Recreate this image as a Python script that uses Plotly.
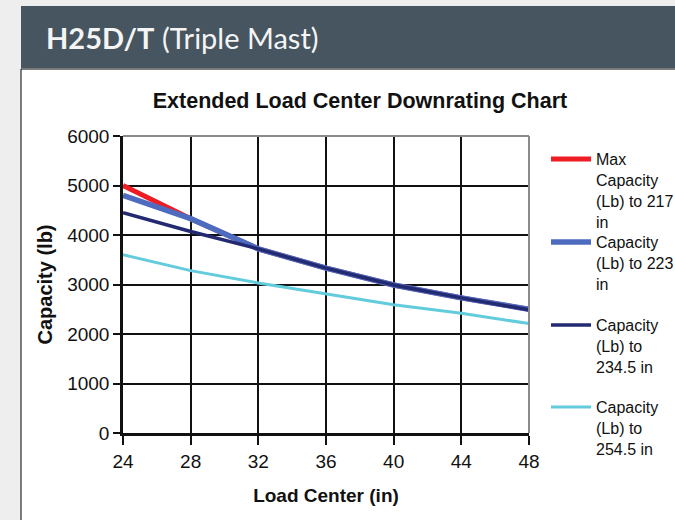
import plotly.graph_objects as go

load_center = [24, 28, 32, 36, 40, 44, 48]
cap_217 = [5000, 4330, 3720, 3330, 2990, 2730, 2500]
cap_223 = [4800, 4330, 3720, 3330, 2990, 2730, 2500]
cap_2345 = [4450, 4070, 3720, 3330, 2990, 2730, 2490]
cap_2545 = [3600, 3280, 3030, 2810, 2590, 2420, 2210]

names = [
    "Max<br>Capacity<br>(Lb) to 217<br>in",
    "Capacity<br>(Lb) to 223<br>in",
    "Capacity<br>(Lb) to<br>234.5 in",
    "Capacity<br>(Lb) to<br>254.5 in",
]
colors = ["#ee1d24", "#4d6cc0", "#242a72", "#62cbdc"]
widths = [5, 5.5, 3.5, 3]
series = [cap_217, cap_223, cap_2345, cap_2545]
legend_ids = ["legend", "legend2", "legend3", "legend4"]

W, H = 675, 520
L, R, T, B = 123, 529, 136, 433


def px_x(px):
    return (px - L) / (R - L)


def px_y(py):
    return (B - py) / (B - T)


FONT = "Arial, 'Liberation Sans', sans-serif"

fig = go.Figure()
for name, ys, c, w, lg in zip(names, series, colors, widths, legend_ids):
    fig.add_trace(go.Scatter(x=load_center, y=ys, name=name, mode="lines",
                             line=dict(color=c, width=w), legend=lg))

legend_tops = [142, 225, 308, 390]
layout_legends = {}
for lg, top in zip(legend_ids, legend_tops):
    layout_legends[lg] = dict(
        x=px_x(546), xanchor="left", y=px_y(top), yanchor="top",
        bgcolor="rgba(0,0,0,0)", borderwidth=0,
        font=dict(family=FONT, size=16, color="#111"),
        valign="top", itemwidth=40, tracegroupgap=0,
    )

shapes = [
    # white panel
    dict(type="rect", xref="paper", yref="paper", x0=px_x(21), x1=px_x(690),
         y0=px_y(69), y1=px_y(530), fillcolor="white",
         line=dict(color="black", width=1), layer="below"),
    # header bar
    dict(type="rect", xref="paper", yref="paper", x0=px_x(21), x1=px_x(690),
         y0=px_y(6), y1=px_y(68), fillcolor="#46555f",
         line=dict(width=0), layer="below"),
    # top & right plot border
    dict(type="line", xref="paper", yref="paper", x0=0, x1=1, y0=1, y1=1,
         line=dict(color="#8a8a8a", width=2), layer="above"),
    dict(type="line", xref="paper", yref="paper", x0=1, x1=1, y0=0, y1=1,
         line=dict(color="#8a8a8a", width=2), layer="above"),
]

annotations = [
    dict(xref="paper", yref="paper", x=px_x(44), y=px_y(38), xanchor="left",
         yanchor="middle", showarrow=False,
         text="<b>H25D/T</b> (Triple Mast)",
         font=dict(family="Lato, 'Noto Sans', sans-serif", size=29, color="#f4f4f4")),
]

fig.update_layout(
    width=W, height=H,
    margin=dict(l=L, r=W - R, t=T, b=H - B, pad=0, autoexpand=False),
    paper_bgcolor="#eeeeee",
    plot_bgcolor="#e4e5e7",
    title=dict(text="<b>Extended Load Center Downrating Chart</b>",
               x=px_x(360), xanchor="center", xref="paper",
               y=1 - 100 / H, yanchor="middle", yref="container",
               font=dict(family=FONT, size=21.5, color="#111")),
    shapes=shapes,
    annotations=annotations,
    showlegend=True,
    **layout_legends,
)

fig.update_xaxes(
    range=[24, 48], tickvals=load_center, ticktext=[str(v) for v in load_center],
    showgrid=True, gridcolor="#111", gridwidth=1.5,
    showline=True, linecolor="#111", linewidth=2.5,
    ticks="outside", ticklen=9, tickcolor="#111", tickwidth=1.5,
    tickfont=dict(family=FONT, size=19, color="#111"),
    title=dict(text="<b>Load Center (in)</b>", standoff=19,
               font=dict(family=FONT, size=19, color="#111")),
    zeroline=False,
)
fig.update_yaxes(
    range=[0, 6000], dtick=1000,
    showgrid=True, gridcolor="#111", gridwidth=1.5,
    showline=True, linecolor="#111", linewidth=2.5,
    ticks="outside", ticklen=7, tickcolor="#111", tickwidth=1.5,
    tickfont=dict(family=FONT, size=19, color="#111"),
    title=dict(text="<b>Capacity (lb)</b>", standoff=10,
               font=dict(family=FONT, size=20, color="#111")),
    zeroline=False,
)

fig.write_html("out.html", config={"displayModeBar": False},
               post_script="document.body.style.margin='0';document.body.style.overflow='hidden';")
